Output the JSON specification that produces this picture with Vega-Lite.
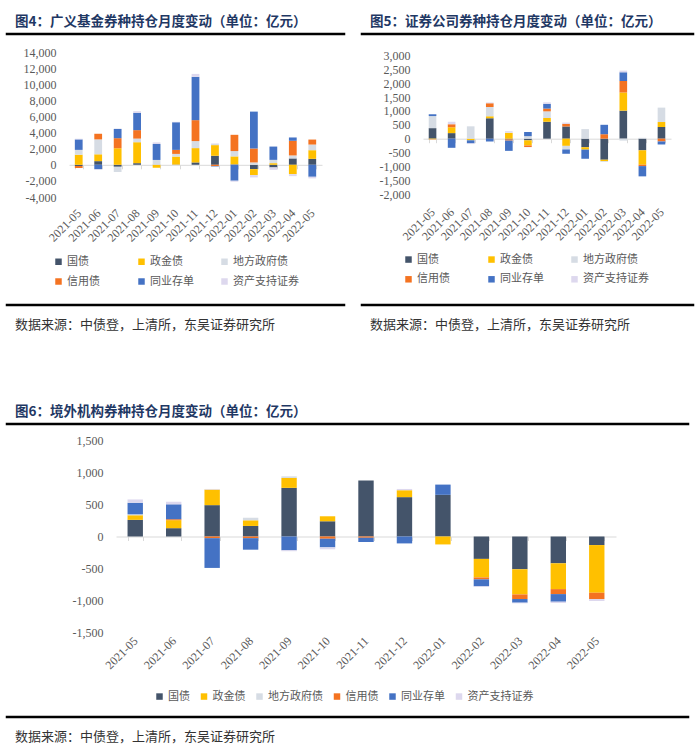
{
  "$schema": "https://vega.github.io/schema/vega-lite/v6.json",
  "padding": {"left": 5, "top": 13, "right": 0, "bottom": 0},
  "background": "white",
  "config": {
    "view": {"stroke": null},
    "font": "Noto Sans CJK SC",
    "axis": {"grid": false, "titleFontSize": 12},
    "axisY": {"domain": false, "ticks": false, "labelFont": "Liberation Serif", "labelFontSize": 12, "labelColor": "#595959", "labelPadding": 13, "labelExpr": "replace(format(datum.value, ','), '\u2212', '-')", "title": null},
    "axisX": {"domainColor": "#D9D9D9", "tickColor": "#D9D9D9", "tickSize": 4, "tickBand": "extent", "labelAngle": -45, "labelAlign": "right", "labelBaseline": "middle", "labelOverlap": false, "labelBound": false, "labelFont": "Liberation Serif", "labelFontSize": 12, "labelColor": "#595959", "title": null},
    "legend": {"title": null, "symbolType": "square", "symbolSize": 42, "symbolStrokeWidth": 0, "labelFont": "Noto Sans CJK SC", "labelFontSize": 11, "labelColor": "#595959", "labelOffset": 3, "rowPadding": 8, "orient": "none", "direction": "horizontal"},
    "title": {"anchor": "start", "dx": 8, "font": "Noto Sans CJK SC"}
  },
  "datasets": {
    "fund": [
      {"m":"2021-05","t":"国债","v":-150},{"m":"2021-05","t":"政金债","v":1250},{"m":"2021-05","t":"地方政府债","v":600},{"m":"2021-05","t":"信用债","v":-250},{"m":"2021-05","t":"同业存单","v":1300},{"m":"2021-05","t":"资产支持证券","v":80},
      {"m":"2021-06","t":"国债","v":450},{"m":"2021-06","t":"政金债","v":850},{"m":"2021-06","t":"地方政府债","v":1850},{"m":"2021-06","t":"信用债","v":700},{"m":"2021-06","t":"同业存单","v":-550},{"m":"2021-06","t":"资产支持证券","v":-60},
      {"m":"2021-07","t":"国债","v":-250},{"m":"2021-07","t":"政金债","v":2050},{"m":"2021-07","t":"地方政府债","v":-650},{"m":"2021-07","t":"信用债","v":1250},{"m":"2021-07","t":"同业存单","v":1150},{"m":"2021-07","t":"资产支持证券","v":30},
      {"m":"2021-08","t":"国债","v":200},{"m":"2021-08","t":"政金债","v":2600},{"m":"2021-08","t":"地方政府债","v":450},{"m":"2021-08","t":"信用债","v":1050},{"m":"2021-08","t":"同业存单","v":2150},{"m":"2021-08","t":"资产支持证券","v":200},
      {"m":"2021-09","t":"国债","v":20},{"m":"2021-09","t":"政金债","v":-370},{"m":"2021-09","t":"地方政府债","v":580},{"m":"2021-09","t":"同业存单","v":1980},{"m":"2021-09","t":"资产支持证券","v":200},
      {"m":"2021-10","t":"国债","v":30},{"m":"2021-10","t":"政金债","v":990},{"m":"2021-10","t":"地方政府债","v":330},{"m":"2021-10","t":"信用债","v":500},{"m":"2021-10","t":"同业存单","v":3430},{"m":"2021-10","t":"资产支持证券","v":50},
      {"m":"2021-11","t":"国债","v":290},{"m":"2021-11","t":"政金债","v":1780},{"m":"2021-11","t":"地方政府债","v":870},{"m":"2021-11","t":"信用债","v":2600},{"m":"2021-11","t":"同业存单","v":5370},{"m":"2021-11","t":"资产支持证券","v":370},
      {"m":"2021-12","t":"国债","v":1120},{"m":"2021-12","t":"政金债","v":1320},{"m":"2021-12","t":"地方政府债","v":150},{"m":"2021-12","t":"信用债","v":-150},{"m":"2021-12","t":"同业存单","v":-60},{"m":"2021-12","t":"资产支持证券","v":60},
      {"m":"2022-01","t":"国债","v":50},{"m":"2022-01","t":"政金债","v":990},{"m":"2022-01","t":"地方政府债","v":660},{"m":"2022-01","t":"信用债","v":2020},{"m":"2022-01","t":"同业存单","v":-1980},{"m":"2022-01","t":"资产支持证券","v":-120},
      {"m":"2022-02","t":"国债","v":-540},{"m":"2022-02","t":"政金债","v":-740},{"m":"2022-02","t":"地方政府债","v":290},{"m":"2022-02","t":"信用债","v":1730},{"m":"2022-02","t":"同业存单","v":4580},{"m":"2022-02","t":"资产支持证券","v":-290},
      {"m":"2022-03","t":"国债","v":-330},{"m":"2022-03","t":"政金债","v":200},{"m":"2022-03","t":"地方政府债","v":410},{"m":"2022-03","t":"同业存单","v":1650},{"m":"2022-03","t":"资产支持证券","v":-300},
      {"m":"2022-04","t":"国债","v":790},{"m":"2022-04","t":"政金债","v":-1160},{"m":"2022-04","t":"地方政府债","v":370},{"m":"2022-04","t":"信用债","v":1820},{"m":"2022-04","t":"同业存单","v":410},{"m":"2022-04","t":"资产支持证券","v":-250},
      {"m":"2022-05","t":"国债","v":740},{"m":"2022-05","t":"政金债","v":1070},{"m":"2022-05","t":"地方政府债","v":700},{"m":"2022-05","t":"信用债","v":620},{"m":"2022-05","t":"同业存单","v":-1490},{"m":"2022-05","t":"资产支持证券","v":-200}
    ],
    "sec": [
      {"m":"2021-05","t":"国债","v":380},{"m":"2021-05","t":"政金债","v":-20},{"m":"2021-05","t":"地方政府债","v":435},{"m":"2021-05","t":"信用债","v":-10},{"m":"2021-05","t":"同业存单","v":65},
      {"m":"2021-06","t":"国债","v":200},{"m":"2021-06","t":"政金债","v":210},{"m":"2021-06","t":"信用债","v":110},{"m":"2021-06","t":"同业存单","v":-330},{"m":"2021-06","t":"资产支持证券","v":90},
      {"m":"2021-07","t":"政金债","v":-60},{"m":"2021-07","t":"地方政府债","v":445},{"m":"2021-07","t":"同业存单","v":-110},{"m":"2021-07","t":"资产支持证券","v":-25},
      {"m":"2021-08","t":"国债","v":740},{"m":"2021-08","t":"政金债","v":70},{"m":"2021-08","t":"地方政府债","v":330},{"m":"2021-08","t":"信用债","v":140},{"m":"2021-08","t":"同业存单","v":-100},{"m":"2021-08","t":"资产支持证券","v":20},
      {"m":"2021-09","t":"国债","v":-30},{"m":"2021-09","t":"政金债","v":210},{"m":"2021-09","t":"地方政府债","v":10},{"m":"2021-09","t":"信用债","v":-40},{"m":"2021-09","t":"同业存单","v":-370},{"m":"2021-09","t":"资产支持证券","v":50},
      {"m":"2021-10","t":"国债","v":-60},{"m":"2021-10","t":"政金债","v":-185},{"m":"2021-10","t":"地方政府债","v":90},{"m":"2021-10","t":"信用债","v":-55},{"m":"2021-10","t":"同业存单","v":150},{"m":"2021-10","t":"资产支持证券","v":-10},
      {"m":"2021-11","t":"国债","v":610},{"m":"2021-11","t":"政金债","v":135},{"m":"2021-11","t":"地方政府债","v":240},{"m":"2021-11","t":"信用债","v":100},{"m":"2021-11","t":"同业存单","v":170},{"m":"2021-11","t":"资产支持证券","v":55},
      {"m":"2021-12","t":"国债","v":440},{"m":"2021-12","t":"政金债","v":-260},{"m":"2021-12","t":"地方政府债","v":-130},{"m":"2021-12","t":"信用债","v":95},{"m":"2021-12","t":"同业存单","v":-155},{"m":"2021-12","t":"资产支持证券","v":45},
      {"m":"2022-01","t":"国债","v":-310},{"m":"2022-01","t":"政金债","v":-85},{"m":"2022-01","t":"地方政府债","v":345},{"m":"2022-01","t":"同业存单","v":-330},
      {"m":"2022-02","t":"国债","v":-760},{"m":"2022-02","t":"政金债","v":-50},{"m":"2022-02","t":"地方政府债","v":-30},{"m":"2022-02","t":"信用债","v":160},{"m":"2022-02","t":"同业存单","v":340},
      {"m":"2022-03","t":"国债","v":1010},{"m":"2022-03","t":"政金债","v":655},{"m":"2022-03","t":"地方政府债","v":-70},{"m":"2022-03","t":"信用债","v":415},{"m":"2022-03","t":"同业存单","v":315},{"m":"2022-03","t":"资产支持证券","v":60},
      {"m":"2022-04","t":"国债","v":-420},{"m":"2022-04","t":"政金债","v":-520},{"m":"2022-04","t":"地方政府债","v":30},{"m":"2022-04","t":"信用债","v":-50},{"m":"2022-04","t":"同业存单","v":-370},
      {"m":"2022-05","t":"国债","v":420},{"m":"2022-05","t":"政金债","v":180},{"m":"2022-05","t":"地方政府债","v":520},{"m":"2022-05","t":"信用债","v":-100},{"m":"2022-05","t":"同业存单","v":-110}
    ],
    "foreign": [
      {"m":"2021-05","t":"国债","v":260},{"m":"2021-05","t":"政金债","v":72},{"m":"2021-05","t":"地方政府债","v":15},{"m":"2021-05","t":"同业存单","v":180},{"m":"2021-05","t":"资产支持证券","v":52},
      {"m":"2021-06","t":"国债","v":130},{"m":"2021-06","t":"政金债","v":125},{"m":"2021-06","t":"信用债","v":15},{"m":"2021-06","t":"同业存单","v":233},{"m":"2021-06","t":"资产支持证券","v":40},
      {"m":"2021-07","t":"国债","v":490},{"m":"2021-07","t":"政金债","v":243},{"m":"2021-07","t":"信用债","v":-26},{"m":"2021-07","t":"同业存单","v":-465},{"m":"2021-07","t":"资产支持证券","v":10},
      {"m":"2021-08","t":"国债","v":165},{"m":"2021-08","t":"政金债","v":88},{"m":"2021-08","t":"地方政府债","v":40},{"m":"2021-08","t":"信用债","v":-26},{"m":"2021-08","t":"同业存单","v":-180},
      {"m":"2021-09","t":"国债","v":760},{"m":"2021-09","t":"政金债","v":155},{"m":"2021-09","t":"地方政府债","v":25},{"m":"2021-09","t":"同业存单","v":-215},{"m":"2021-09","t":"资产支持证券","v":-15},
      {"m":"2021-10","t":"国债","v":238},{"m":"2021-10","t":"政金债","v":78},{"m":"2021-10","t":"信用债","v":-35},{"m":"2021-10","t":"同业存单","v":-135},{"m":"2021-10","t":"资产支持证券","v":-30},
      {"m":"2021-11","t":"国债","v":874},{"m":"2021-11","t":"信用债","v":-20},{"m":"2021-11","t":"同业存单","v":-67},
      {"m":"2021-12","t":"国债","v":615},{"m":"2021-12","t":"政金债","v":108},{"m":"2021-12","t":"同业存单","v":-108},{"m":"2021-12","t":"资产支持证券","v":20},
      {"m":"2022-01","t":"国债","v":651},{"m":"2022-01","t":"政金债","v":-124},{"m":"2022-01","t":"同业存单","v":160},
      {"m":"2022-02","t":"国债","v":-350},{"m":"2022-02","t":"政金债","v":-290},{"m":"2022-02","t":"信用债","v":-30},{"m":"2022-02","t":"同业存单","v":-108},{"m":"2022-02","t":"资产支持证券","v":-10},
      {"m":"2022-03","t":"国债","v":-512},{"m":"2022-03","t":"政金债","v":-393},{"m":"2022-03","t":"信用债","v":-72},{"m":"2022-03","t":"同业存单","v":-57},{"m":"2022-03","t":"资产支持证券","v":-10},
      {"m":"2022-04","t":"国债","v":-419},{"m":"2022-04","t":"政金债","v":-403},{"m":"2022-04","t":"信用债","v":-78},{"m":"2022-04","t":"同业存单","v":-119},{"m":"2022-04","t":"资产支持证券","v":-20},
      {"m":"2022-05","t":"国债","v":-134},{"m":"2022-05","t":"政金债","v":-745},{"m":"2022-05","t":"信用债","v":-98},{"m":"2022-05","t":"资产支持证券","v":-31}
    ]
  },
  "resolve": {"scale": {"color": "independent"}, "legend": {"color": "independent"}},
  "spacing": 69,
  "vconcat": [
    {
      "resolve": {"scale": {"color": "independent"}, "legend": {"color": "independent"}},
      "spacing": 14,
      "hconcat": [
        {
          "resolve": {"scale": {"color": "independent"}, "legend": {"color": "independent"}},
          "spacing": 10,
          "vconcat": [
            {
              "width": 337, "height": 0.01,
              "data": {"values": []},
              "mark": {"type": "rule"},
              "encoding": {},
              "view": {"stroke": "black", "strokeWidth": 2.5},
              "title": {"text": "图4：广义基金券种持仓月度变动（单位：亿元）", "fontSize": 13.5, "fontWeight": "bold", "color": "#1F3864", "offset": 6}
            },
            {
              "resolve": {"scale": {"color": "independent"}, "legend": {"color": "independent"}},
              "spacing": 0,
              "hconcat": [
                {"width": 0.01, "height": 0.01, "data": {"values": []}, "mark": {"type": "rule"}, "encoding": {}},
                {
                  "width": 253, "height": 145,
                  "data": {"name": "fund"},
                  "transform": [{"calculate": "indexof(['国债','政金债','地方政府债','信用债','同业存单','资产支持证券'], datum.t)", "as": "k"}],
                  "mark": {"type": "bar"},
                  "encoding": {
                    "x": {"field": "m", "type": "ordinal", "sort": null, "scale": {"paddingInner": 0.6, "paddingOuter": 0.3}, "axis": {"offset": -32.2, "labelPadding": 42}},
                    "y": {"field": "v", "type": "quantitative", "stack": "zero", "scale": {"domain": [-4000, 14000], "nice": false}, "axis": {"values": [-4000, -2000, 0, 2000, 4000, 6000, 8000, 10000, 12000, 14000], "minExtent": 61}},
                    "color": {"field": "t", "type": "nominal", "scale": {"domain": ["国债", "政金债", "地方政府债", "信用债", "同业存单", "资产支持证券"], "range": ["#44546A", "#FFC000", "#D6DCE4", "#F47321", "#4472C4", "#DDD8EE"]}, "legend": {"legendX": -22, "legendY": 198, "columns": 3, "gridAlign": "all", "columnPadding": 3, "padding": 6}},
                    "order": {"field": "k", "type": "quantitative"}
                  }
                }
              ]
            },
            {
              "width": 337, "height": 0.01,
              "data": {"values": []},
              "mark": {"type": "rule"},
              "encoding": {},
              "view": {"stroke": "black", "strokeWidth": 2.5},
              "title": {"text": "数据来源：中债登，上清所，东吴证券研究所", "orient": "bottom", "fontSize": 13, "fontWeight": "normal", "color": "#333333", "offset": 14}
            }
          ]
        },
        {
          "resolve": {"scale": {"color": "independent"}, "legend": {"color": "independent"}},
          "spacing": 13.5,
          "vconcat": [
            {
              "width": 331, "height": 0.01,
              "data": {"values": []},
              "mark": {"type": "rule"},
              "encoding": {},
              "view": {"stroke": "black", "strokeWidth": 2.5},
              "title": {"text": "图5：证券公司券种持仓月度变动（单位：亿元）", "fontSize": 13.5, "fontWeight": "bold", "color": "#1F3864", "offset": 6}
            },
            {
              "resolve": {"scale": {"color": "independent"}, "legend": {"color": "independent"}},
              "spacing": 0,
              "hconcat": [
                {"width": 0.01, "height": 0.01, "data": {"values": []}, "mark": {"type": "rule"}, "encoding": {}},
                {
                  "width": 248, "height": 138.6,
                  "data": {"name": "sec"},
                  "transform": [{"calculate": "indexof(['国债','政金债','地方政府债','信用债','同业存单','资产支持证券'], datum.t)", "as": "k"}],
                  "mark": {"type": "bar"},
                  "encoding": {
                    "x": {"field": "m", "type": "ordinal", "sort": null, "scale": {"paddingInner": 0.6, "paddingOuter": 0.3}, "axis": {"offset": -55.4, "labelPadding": 67}},
                    "y": {"field": "v", "type": "quantitative", "stack": "zero", "scale": {"domain": [-2000, 3000], "nice": false}, "axis": {"values": [-2000, -1500, -1000, -500, 0, 500, 1000, 1500, 2000, 2500, 3000], "minExtent": 60}},
                    "color": {"field": "t", "type": "nominal", "scale": {"domain": ["国债", "政金债", "地方政府债", "信用债", "同业存单", "资产支持证券"], "range": ["#44546A", "#FFC000", "#D6DCE4", "#F47321", "#4472C4", "#DDD8EE"]}, "legend": {"legendX": -24, "legendY": 194.3, "columns": 3, "gridAlign": "all", "columnPadding": 3, "padding": 4}},
                    "order": {"field": "k", "type": "quantitative"}
                  }
                }
              ]
            },
            {
              "width": 331, "height": 0.01,
              "data": {"values": []},
              "mark": {"type": "rule"},
              "encoding": {},
              "view": {"stroke": "black", "strokeWidth": 2.5},
              "title": {"text": "数据来源：中债登，上清所，东吴证券研究所", "orient": "bottom", "fontSize": 13, "fontWeight": "normal", "color": "#333333", "offset": 14}
            }
          ]
        }
      ]
    },
    {
      "resolve": {"scale": {"color": "independent"}, "legend": {"color": "independent"}},
      "spacing": 8.5,
      "vconcat": [
        {
          "width": 681, "height": 0.01,
          "data": {"values": []},
          "mark": {"type": "rule"},
          "encoding": {},
          "view": {"stroke": "black", "strokeWidth": 2.5},
          "title": {"text": "图6：境外机构券种持仓月度变动（单位：亿元）", "fontSize": 13.5, "fontWeight": "bold", "color": "#1F3864", "offset": 6}
        },
        {
          "resolve": {"scale": {"color": "independent"}, "legend": {"color": "independent"}},
          "spacing": 0,
          "hconcat": [
            {"width": 0.01, "height": 0.01, "data": {"values": []}, "mark": {"type": "rule"}, "encoding": {}},
            {
              "width": 500, "height": 192,
              "data": {"name": "foreign"},
              "transform": [{"calculate": "indexof(['国债','政金债','地方政府债','信用债','同业存单','资产支持证券'], datum.t)", "as": "k"}],
              "mark": {"type": "bar"},
              "encoding": {
                "x": {"field": "m", "type": "ordinal", "sort": null, "scale": {"paddingInner": 0.6, "paddingOuter": 0.3}, "axis": {"offset": -96, "labelPadding": 98}},
                "y": {"field": "v", "type": "quantitative", "stack": "zero", "scale": {"domain": [-1500, 1500], "nice": false}, "axis": {"values": [-1500, -1000, -500, 0, 500, 1000, 1500], "minExtent": 108}},
                "color": {"field": "t", "type": "nominal", "scale": {"domain": ["国债", "政金债", "地方政府债", "信用债", "同业存单", "资产支持证券"], "range": ["#44546A", "#FFC000", "#D6DCE4", "#F47321", "#4472C4", "#DDD8EE"]}, "legend": {"legendX": 34, "legendY": 246.3, "columns": 6, "gridAlign": "each", "columnPadding": 8.5, "padding": 4}},
                "order": {"field": "k", "type": "quantitative"}
              }
            }
          ]
        },
        {
          "width": 681, "height": 0.01,
          "data": {"values": []},
          "mark": {"type": "rule"},
          "encoding": {},
          "view": {"stroke": "black", "strokeWidth": 2.5},
          "title": {"text": "数据来源：中债登，上清所，东吴证券研究所", "orient": "bottom", "fontSize": 13, "fontWeight": "normal", "color": "#333333", "offset": 14}
        }
      ]
    }
  ]
}
